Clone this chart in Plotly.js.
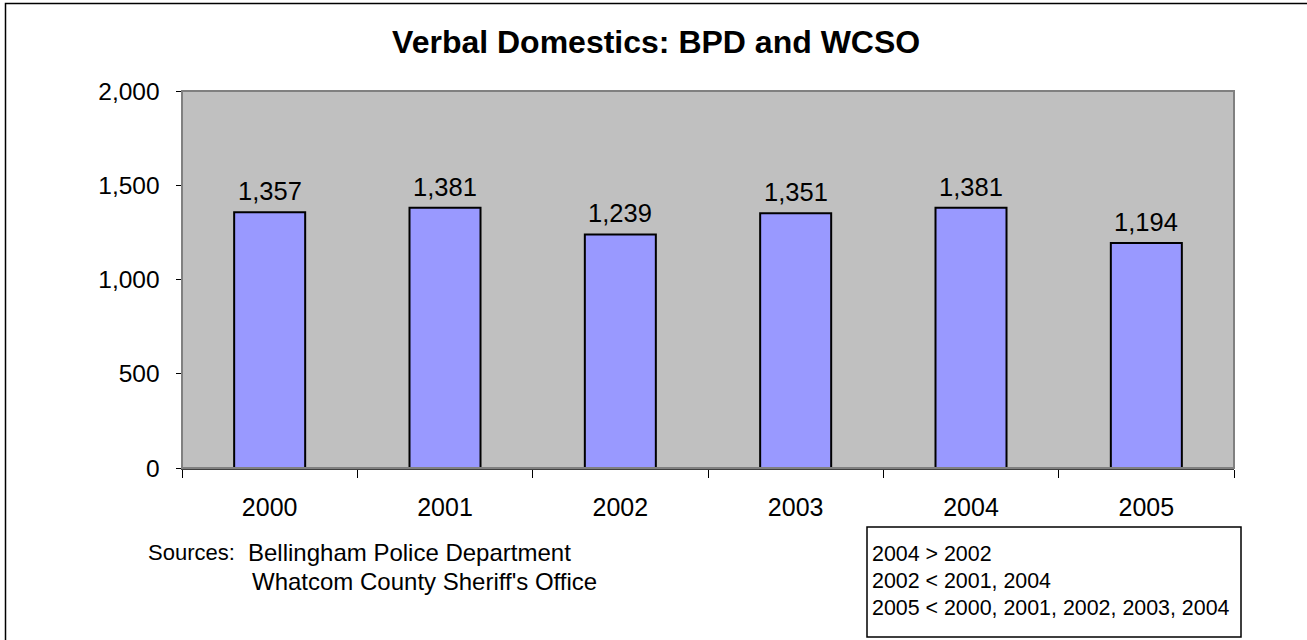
<!DOCTYPE html>
<html>
<head>
<meta charset="utf-8">
<script src="https://cdn.plot.ly/plotly-3.0.1.min.js"></script>
<style>
  html, body { margin: 0; padding: 0; background: #ffffff; }
  #chart { width: 1307px; height: 640px; }
</style>
</head>
<body>
<div id="chart"></div>
<script>
// ---- data ----
const years = ["2000", "2001", "2002", "2003", "2004", "2005"];
const verbalDomestics = [1357, 1381, 1239, 1351, 1381, 1194];
const yTickValues = [0, 500, 1000, 1500, 2000];
const titleText = "Verbal Domestics: BPD and WCSO";
const sourcesLabel = "Sources:";
const sourcesLines = ["Bellingham Police Department", "Whatcom County Sheriff's Office"];
const noteLines = ["2004 > 2002", "2002 < 2001, 2004", "2005 < 2000, 2001, 2002, 2003, 2004"];

// ---- layout geometry (pixels) ----
const W = 1307, H = 640;
const L = 182, R = 1234, T = 91, B = 468;
const pw = R - L, ph = B - T;
const px = x => (x - L) / pw;
const py = y => (B - y) / ph;
const FONT = "Liberation Sans, Arial, sans-serif";

const trace = {
  type: "bar",
  x: years,
  y: verbalDomestics,
  marker: { color: "#9999FF", line: { color: "#000000", width: 2 } },
  hoverinfo: "x+y"
};

const fmt = v => v.toLocaleString("en-US");

// value labels: x given as category index on the category axis
const annotations = years.map((yr, i) => ({
  x: i, y: verbalDomestics[i], xref: "x", yref: "y",
  text: fmt(verbalDomestics[i]),
  showarrow: false, yanchor: "bottom", yshift: 5,
  font: { family: FONT, size: 25.5, color: "#000" }
}));

annotations.push({
  x: px(146), y: py(552), xref: "paper", yref: "paper",
  xanchor: "left", yanchor: "middle", showarrow: false,
  text: sourcesLabel, font: { family: FONT, size: 22, color: "#000" }
});
sourcesLines.forEach((s, i) => annotations.push({
  x: px(i === 0 ? 246 : 250), y: py(552 + i * 29), xref: "paper", yref: "paper",
  xanchor: "left", yanchor: "middle", showarrow: false,
  text: s, font: { family: FONT, size: 24, color: "#000" }
}));
noteLines.forEach((s, i) => annotations.push({
  x: px(870), y: py(554 + i * 27), xref: "paper", yref: "paper",
  xanchor: "left", yanchor: "middle", showarrow: false,
  text: s, font: { family: FONT, size: 21.4, color: "#000" }
}));

const shapes = [
  // plot area border (gray top/right)
  { type: "rect", xref: "paper", yref: "paper", x0: 0, x1: 1, y0: 0, y1: 1,
    line: { color: "#808080", width: 2 }, layer: "above" },
  // note box
  { type: "rect", xref: "paper", yref: "paper", x0: px(867), x1: px(1241), y0: py(637), y1: py(527),
    line: { color: "#000000", width: 1.5 }, fillcolor: "rgba(0,0,0,0)" },
  // outer chart frame
  { type: "rect", xref: "paper", yref: "paper", x0: px(5.5), x1: px(1330), y0: py(660), y1: py(3.5),
    line: { color: "#000000", width: 1.5 }, fillcolor: "rgba(0,0,0,0)" }
];

const layout = {
  width: W, height: H,
  margin: { l: L, r: W - R, t: T, b: H - B, pad: 0 },
  paper_bgcolor: "#ffffff",
  plot_bgcolor: "#C0C0C0",
  showlegend: false,
  bargap: 0.595,
  title: {
    text: "<b>" + titleText + "</b>",
    x: 0.502, xref: "container", xanchor: "center",
    y: 1 - 42 / H, yref: "container", yanchor: "middle",
    font: { family: FONT, size: 32, color: "#000" }
  },
  xaxis: {
    type: "category",
    range: [-0.5, years.length - 0.5],
    showgrid: false,
    showline: true, linecolor: "#404040", linewidth: 2,
    ticks: "outside", tickson: "boundaries", ticklen: 8, tickcolor: "#000", tickwidth: 1,
    ticklabelstandoff: 16,
    tickangle: 0,
    tickfont: { family: FONT, size: 25, color: "#000" },
    fixedrange: true
  },
  yaxis: {
    range: [0, 2000],
    tickvals: yTickValues,
    ticktext: yTickValues.map(fmt),
    showgrid: false, zeroline: false,
    showline: true, linecolor: "#000", linewidth: 1.5,
    ticks: "outside", ticklen: 5, tickcolor: "#000", tickwidth: 1,
    ticklabelstandoff: 11,
    tickfont: { family: FONT, size: 24.5, color: "#000" },
    fixedrange: true
  },
  annotations: annotations,
  shapes: shapes
};

Plotly.newPlot("chart", [trace], layout, { displayModeBar: false, staticPlot: true });
</script>
</body>
</html>
